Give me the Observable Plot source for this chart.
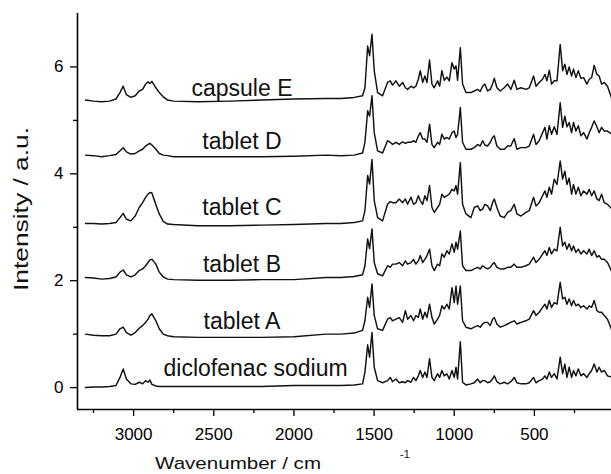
<!DOCTYPE html>
<html><head><meta charset="utf-8">
<script src="https://cdn.jsdelivr.net/npm/d3@7"></script>
<script src="https://cdn.jsdelivr.net/npm/@observablehq/plot@0.6"></script>
<style>
body{margin:0;background:#fff;}
#chart{width:611px;height:474px;}
</style></head><body><div id="chart"></div>
<script>
// Raman shift grid (cm-1), high-wavenumber part then fingerprint part
const wavenumbers = [
  3300,3250,3200,3150,3110,3085,3065,3045,3017,2990,2965,2944,2925,2910,2898,2886,2861,2840,2815,2788,2750,2600,2400,2200,2000,1800,
  1707,1624,1572,1557,1540,1528,1513,1499,1478,1447,1416,1399,1385,1364,1343,1322,1305,1291,1270,1254,
  1239,1224,1212,1197,1183,1170,1154,1139,1125,1104,1091,1077,1062,1046,1031,1014,1000,989,979,962,
  948,927,896,875,854,838,823,809,792,775,761,750,734,713,688,667,647,626,609,584,
  553,532,505,490,470,449,434,422,407,393,376,359,339,324,310,297,283,268,256,241,
  226,210,193,172,158,143,127,110,96,81,64,44,16
];
const capsuleE = [
  5.38,5.36,5.35,5.36,5.40,5.52,5.64,5.48,5.43,5.46,5.55,5.58,5.68,5.72,5.69,5.73,5.61,5.52,5.44,5.38,5.36,5.35,5.36,5.38,5.40,5.41,
  5.41,5.43,5.46,5.61,6.39,6.21,6.61,5.93,5.52,5.46,
  5.71,5.74,5.66,5.74,5.64,5.71,5.61,5.58,5.64,5.61,
  5.64,5.77,5.93,5.71,5.83,5.71,6.13,5.68,5.61,5.74,
  5.64,5.93,5.75,5.81,5.74,6.08,5.96,6.02,5.75,6.36,
  5.68,5.52,5.52,5.55,5.58,5.54,5.64,5.68,5.55,5.58,
  5.68,5.79,5.61,5.55,5.61,5.68,5.58,5.75,5.58,5.61,
  5.58,5.61,5.83,5.64,5.71,5.77,5.86,5.74,5.94,5.68,
  5.74,5.74,6.42,5.93,6.05,5.86,6.00,5.83,5.96,5.80,
  5.93,5.79,5.80,5.68,5.77,5.80,6.03,5.86,5.83,5.68,
  5.71,5.64,5.40
];
const tabletD = [
  4.35,4.34,4.32,4.34,4.36,4.43,4.49,4.41,4.37,4.38,4.43,4.46,4.52,4.55,4.57,4.54,4.46,4.38,4.35,4.34,4.32,4.32,4.32,4.32,4.33,4.35,
  4.34,4.35,4.39,4.59,5.18,5.08,5.46,4.77,4.43,4.39,
  4.62,4.59,4.55,4.59,4.55,4.60,4.57,4.59,4.59,4.62,
  4.59,4.71,4.77,4.65,4.65,4.59,4.93,4.55,4.49,4.59,
  4.55,4.74,4.65,4.68,4.65,4.77,4.80,4.68,4.74,5.24,
  4.59,4.46,4.46,4.49,4.55,4.52,4.62,4.54,4.52,4.59,
  4.68,4.71,4.52,4.46,4.46,4.52,4.52,4.66,4.46,4.49,
  4.49,4.52,4.74,4.55,4.62,4.77,4.87,4.65,4.90,4.74,
  4.88,4.74,5.33,4.87,5.08,4.88,4.96,4.77,4.96,4.80,
  4.90,4.71,4.77,4.65,4.77,4.87,4.99,4.88,4.77,4.87,
  4.80,4.80,4.74
];
const tabletC = [
  3.07,3.07,3.06,3.07,3.09,3.18,3.26,3.15,3.12,3.21,3.37,3.46,3.56,3.62,3.65,3.64,3.42,3.25,3.11,3.06,3.05,3.03,3.03,3.04,3.05,3.07,
  3.07,3.09,3.12,3.31,3.97,3.81,4.27,3.50,3.18,3.12,
  3.43,3.48,3.46,3.46,3.53,3.46,3.53,3.43,3.56,3.43,
  3.46,3.59,3.50,3.43,3.59,3.50,3.78,3.37,3.28,3.37,
  3.43,3.62,3.56,3.59,3.62,3.71,3.68,3.78,3.62,4.21,
  3.43,3.25,3.18,3.37,3.40,3.31,3.34,3.43,3.40,3.31,
  3.46,3.53,3.37,3.21,3.18,3.28,3.31,3.43,3.25,3.21,
  3.28,3.31,3.56,3.40,3.46,3.59,3.68,3.56,3.75,3.62,
  3.90,3.80,4.24,3.90,4.05,3.80,3.92,3.62,3.80,3.62,
  3.75,3.59,3.68,3.62,3.71,3.59,3.68,3.53,3.50,3.62,
  3.46,3.43,3.34
];
const tabletB = [
  2.06,2.05,2.03,2.04,2.07,2.16,2.20,2.11,2.07,2.11,2.19,2.22,2.28,2.34,2.39,2.40,2.31,2.16,2.07,2.03,2.02,2.01,2.01,2.02,2.02,2.06,
  2.06,2.08,2.11,2.28,2.78,2.60,2.97,2.34,2.13,2.09,
  2.28,2.25,2.31,2.31,2.34,2.28,2.37,2.31,2.34,2.40,
  2.31,2.37,2.47,2.34,2.40,2.47,2.59,2.28,2.19,2.31,
  2.28,2.50,2.44,2.56,2.50,2.69,2.53,2.72,2.59,2.93,
  2.28,2.19,2.19,2.22,2.25,2.22,2.28,2.25,2.22,2.25,
  2.31,2.34,2.25,2.22,2.22,2.25,2.25,2.31,2.25,2.25,
  2.28,2.31,2.44,2.34,2.40,2.50,2.56,2.47,2.62,2.50,
  2.59,2.56,3.00,2.65,2.72,2.59,2.69,2.56,2.65,2.53,
  2.59,2.50,2.56,2.50,2.59,2.47,2.56,2.44,2.47,2.40,
  2.40,2.34,2.16
];
const tabletA = [
  1.00,0.98,0.97,0.97,1.00,1.10,1.13,1.03,0.98,1.03,1.11,1.16,1.22,1.28,1.35,1.38,1.25,1.10,1.00,0.97,0.95,0.94,0.94,0.94,0.95,1.00,
  1.00,1.02,1.07,1.25,1.69,1.50,1.94,1.35,1.10,1.07,
  1.28,1.31,1.25,1.28,1.31,1.22,1.44,1.28,1.35,1.25,
  1.35,1.31,1.47,1.28,1.41,1.31,1.56,1.31,1.19,1.28,
  1.35,1.53,1.47,1.56,1.47,1.87,1.59,1.90,1.56,1.90,
  1.25,1.13,1.10,1.13,1.16,1.13,1.19,1.22,1.22,1.16,
  1.28,1.31,1.19,1.13,1.16,1.19,1.22,1.25,1.19,1.22,
  1.25,1.28,1.44,1.35,1.41,1.50,1.56,1.47,1.63,1.50,
  1.59,1.56,1.97,1.66,1.69,1.56,1.66,1.53,1.63,1.53,
  1.56,1.50,1.53,1.47,1.53,1.50,1.63,1.44,1.41,1.41,
  1.35,1.28,1.07
];
const diclofenacSodium = [
  0.00,0.01,0.01,0.02,0.04,0.19,0.35,0.16,0.07,0.06,0.10,0.07,0.13,0.10,0.14,0.06,0.03,0.02,0.02,0.02,0.02,0.02,0.02,0.02,0.04,0.04,
  0.04,0.05,0.07,0.29,0.80,0.57,1.03,0.38,0.13,0.09,
  0.13,0.19,0.11,0.16,0.09,0.11,0.09,0.13,0.10,0.19,
  0.13,0.22,0.32,0.19,0.29,0.19,0.54,0.19,0.13,0.26,
  0.19,0.32,0.22,0.26,0.16,0.32,0.19,0.38,0.16,0.86,
  0.10,0.05,0.07,0.09,0.16,0.09,0.13,0.13,0.09,0.11,
  0.16,0.22,0.11,0.07,0.10,0.07,0.11,0.19,0.09,0.07,
  0.07,0.09,0.19,0.09,0.13,0.16,0.22,0.16,0.29,0.19,
  0.26,0.16,0.57,0.26,0.44,0.19,0.38,0.19,0.32,0.22,
  0.35,0.22,0.26,0.19,0.26,0.32,0.44,0.29,0.38,0.29,
  0.32,0.22,0.19
];
const seriesNames = ["capsule E","tablet D","tablet C","tablet B","tablet A","diclofenac sodium"];
const seriesValues = [capsuleE, tabletD, tabletC, tabletB, tabletA, diclofenacSodium];
// label anchor points in data units (wavenumber, intensity)
const labelWavenumber = [2324, 2324, 2324, 2324, 2324, 2239];
const labelIntensity = [5.46, 4.46, 3.23, 2.16, 1.10, 0.21];
const xMajorTicks = [3000, 2500, 2000, 1500, 1000, 500];
const xMinorTicks = [3250, 2750, 2250, 1750, 1250, 750, 250];
const yMajorTicks = [0, 2, 4, 6];
const yMinorTicks = [1, 3, 5];
const xDomain = [3350, 19];
const yDomain = [-0.41, 7.0];
const xTitle = "Wavenumber / cm";
const xTitleSup = "-1";
const yTitle = "Intensity / a.u.";

const rows = seriesNames.flatMap((name, i) =>
  wavenumbers.map((wn, j) => ({series: name, wn, intensity: seriesValues[i][j]})));
const labels = seriesNames.map((name, i) => ({name, wn: labelWavenumber[i], intensity: labelIntensity[i]}));

const font = "'Liberation Sans', Arial, Helvetica, sans-serif";
const plot = Plot.plot({
  width: 611, height: 474,
  marginLeft: 77, marginRight: 0, marginTop: 13, marginBottom: 65,
  x: {domain: xDomain},
  y: {domain: yDomain},
  style: {fontFamily: font, background: "white", color: "black"},
  marks: [
    Plot.line(rows, {x: "wn", y: "intensity", z: "series", stroke: "#111", strokeWidth: 1.45, clip: true}),
    Plot.text(labels, {x: "wn", y: "intensity", text: "name", fontSize: 23, textAnchor: "middle", lineAnchor: "bottom", fill: "#111"}),
    Plot.axisX({ticks: xMajorTicks, tickSize: 7, tickPadding: 11, fontSize: 17, tickFormat: d => String(d), label: null, strokeWidth: 1.3}),
    Plot.axisX({ticks: xMinorTicks, tickSize: 4, tickFormat: () => "", label: null, strokeWidth: 1.3}),
    Plot.axisY({ticks: yMajorTicks, tickSize: 7, tickPadding: 7, fontSize: 17, tickFormat: d => String(d), label: null, strokeWidth: 1.3}),
    Plot.axisY({ticks: yMinorTicks, tickSize: 4, tickFormat: () => "", label: null, strokeWidth: 1.3}),
    Plot.ruleX([xDomain[0]], {strokeWidth: 1.6}),
    Plot.ruleY([yDomain[0]], {strokeWidth: 1.6})
  ]
});
document.getElementById("chart").appendChild(plot);

const svg = d3.select(plot);
svg.append("text")
  .attr("x", 238).attr("y", 469)
  .attr("font-family", font).attr("font-size", 17).attr("fill", "#111")
  .attr("textLength", 166).attr("lengthAdjust", "spacingAndGlyphs")
  .text(xTitle);
svg.append("text")
  .attr("x", 405).attr("y", 458)
  .attr("font-family", font).attr("font-size", 11).attr("fill", "#111")
  .text(xTitleSup);
svg.append("text")
  .attr("transform", "translate(28,209) rotate(-90)")
  .attr("text-anchor", "middle")
  .attr("font-family", font).attr("font-size", 20).attr("fill", "#111")
  .attr("textLength", 164).attr("lengthAdjust", "spacingAndGlyphs")
  .text(yTitle);
</script></body></html>
